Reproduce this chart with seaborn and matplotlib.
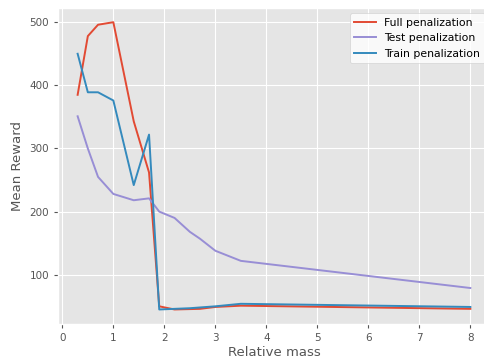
import matplotlib
matplotlib.use("Agg")
import matplotlib.pyplot as plt
import numpy as np
import pandas as pd
import seaborn as sns

# Relative mass values at which each policy was evaluated
full_mass = [0.3, 0.5, 0.7, 1.0, 1.4, 1.7, 1.9, 2.2, 2.7, 3.0, 3.5, 8.0]
full_reward = [385, 478, 496, 500, 343, 262, 50, 45, 46, 49, 51, 46]

test_mass = [0.3, 0.5, 0.7, 1.0, 1.4, 1.7, 1.9, 2.2, 2.5, 2.7, 3.0, 3.5, 8.0]
test_reward = [351, 300, 255, 228, 218, 221, 200, 190, 168, 157, 138, 122, 79]

train_mass = [0.3, 0.5, 0.7, 1.0, 1.4, 1.7, 1.9, 2.2, 2.5, 3.0, 3.5, 8.0]
train_reward = [450, 389, 389, 376, 242, 322, 45, 46, 47, 50, 54, 49]

series_names = ["Full penalization", "Test penalization", "Train penalization"]
series_colors = ["#E24A33", "#988ED5", "#348ABD"]

frames = []
for name, xs, ys in zip(series_names,
                        [full_mass, test_mass, train_mass],
                        [full_reward, test_reward, train_reward]):
    frames.append(pd.DataFrame({"Relative mass": xs, "Mean Reward": ys, "run": name}))
df = pd.concat(frames, ignore_index=True)

plt.style.use("ggplot")
plt.rcParams["font.family"] = ["DejaVu Sans"]

fig = plt.figure(figsize=(4.84, 3.58), dpi=100)
ax = fig.add_axes([58 / 484, 34 / 358, 432 / 484, 316 / 358])

sns.lineplot(data=df, x="Relative mass", y="Mean Reward", hue="run",
             hue_order=series_names, palette=series_colors,
             linewidth=1.4, estimator=None, sort=False, ax=ax)

ax.set_xlim(-0.085, 8.385)
ax.set_ylim(22, 522.5)
ax.set_xticks(range(0, 9))
ax.set_yticks([100, 200, 300, 400, 500])
ax.tick_params(labelsize=7.5, colors="#555555", length=3)
ax.set_xlabel("Relative mass", fontsize=9.5, color="#555555", labelpad=2)
ax.set_ylabel("Mean Reward", fontsize=9.5, color="#555555", labelpad=4)

leg = ax.legend(loc="upper right", fontsize=7.8, frameon=True,
                handlelength=2.0, borderaxespad=0.5)
leg.get_frame().set_facecolor("white")
leg.get_frame().set_alpha(0.8)
leg.get_frame().set_edgecolor("#cccccc")

fig.savefig("out.png", dpi=100)
